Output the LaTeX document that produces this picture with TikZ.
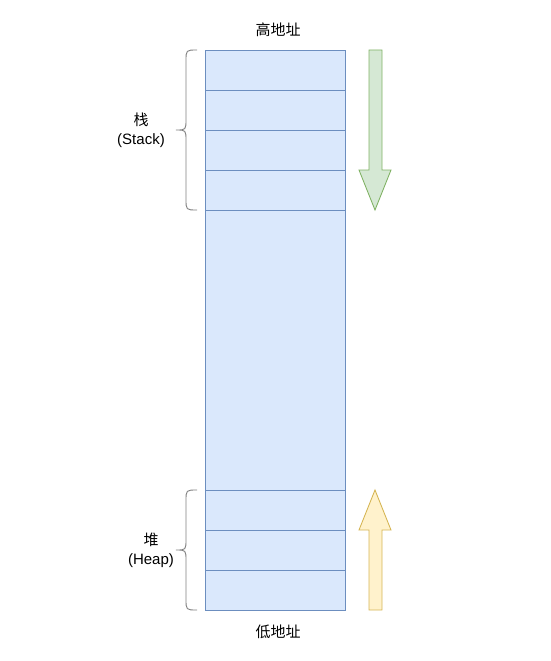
\documentclass[tikz,border=0pt]{standalone}
\usepackage{fontspec}
\setmainfont{Liberation Sans}
\newfontfamily\cjk{Noto Sans CJK SC}
\usetikzlibrary{positioning}

\definecolor{cellfill}{HTML}{DAE8FC}
\definecolor{cellline}{HTML}{6C8EBF}
\definecolor{downfill}{HTML}{D5E8D4}
\definecolor{downline}{HTML}{82B366}
\definecolor{upfill}{HTML}{FFF2CC}
\definecolor{upline}{HTML}{D6B656}

\tikzset{
    cell/.style={draw=cellline, fill=cellfill, rectangle, minimum width=140pt, minimum height=40pt, inner sep=0pt, line width=0.9pt},
    label/.style={font=\fontsize{15}{19}\selectfont, align=center, inner sep=0pt},
    bracket/.style={draw=gray, line width=0.9pt},
}

\begin{document}
\begin{tikzpicture}[x=1pt, y=-1pt]
    \useasboundingbox (0,0) rectangle (551,661);

    % Stack cells
    \foreach \i in {0,1,2,3} {
        \node[cell] (stack\i) at (275, 70+\i*40) {};
    }

    % Free space
    \node[cell, minimum height=280pt, below=0pt of stack3] (free) {};

    % Heap cells
    \foreach \i in {0,1,2} {
        \node[cell] (heap\i) at (275, 510+\i*40) {};
    }

    % Address labels
    \node[label] (high) at (278, 30) {\cjk 高地址};
    \node[label] (low) at (278, 632) {\cjk 低地址};

    % Region labels
    \node[label] (stacklabel) at (141, 130) {{\cjk 栈}\\(Stack)};
    \node[label] (heaplabel) at (151, 550) {{\cjk 堆}\\(Heap)};

    % Braces
    \draw[bracket] (197,50) .. controls (186,50) .. (186,61) -- (186,119)
        .. controls (186,130) .. (176,130) .. controls (186,130) .. (186,141)
        -- (186,199) .. controls (186,210) .. (197,210);
    \draw[bracket] (197,490) .. controls (186,490) .. (186,501) -- (186,539)
        .. controls (186,550) .. (176,550) .. controls (186,550) .. (186,561)
        -- (186,599) .. controls (186,610) .. (197,610);

    % Growth arrows
    \draw[draw=downline, fill=downfill, line width=0.9pt, line join=miter]
        (369,50) -- (382,50) -- (382,170) -- (391,170) -- (375,210)
        -- (359,170) -- (369,170) -- cycle;
    \draw[draw=upline, fill=upfill, line width=0.9pt, line join=miter]
        (369,610) -- (382,610) -- (382,530) -- (391,530) -- (375,490)
        -- (359,530) -- (369,530) -- cycle;
\end{tikzpicture}
\end{document}
